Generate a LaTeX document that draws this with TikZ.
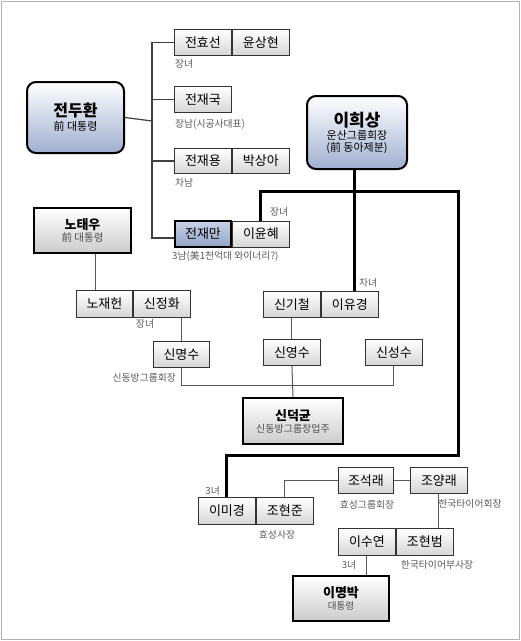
\documentclass[tikz,border=0pt]{standalone}
\usepackage{fontspec}
\setmainfont{Noto Sans CJK KR}
\usetikzlibrary{positioning}
\definecolor{capblue}{RGB}{160,175,207}
\definecolor{manblue}{RGB}{147,164,198}
\definecolor{mantop}{RGB}{200,210,232}

\tikzset{
  pbox/.style={draw=black!80,line width=0.9pt,top color=white,bottom color=black!16,
    minimum width=57pt,minimum height=26pt,inner sep=0pt,anchor=north west,
    font=\fontsize{13}{15}\selectfont},
  capbox/.style={draw=black,line width=2pt,rounded corners=9pt,top color=white,
    bottom color=capblue,align=center,inner sep=0pt,anchor=north west},
  elderbox/.style={draw=black,line width=2pt,top color=white,bottom color=black!20,
    align=center,inner sep=0pt,anchor=north west},
  lbl/.style={font=\fontsize{9.8}{11}\selectfont,text=black!65,inner sep=0pt},
  thin/.style={draw=black!65,line width=1pt},
  trunk/.style={draw=black!75,line width=1.2pt},
  blood/.style={draw=black,line width=3pt},
}

\begin{document}
\begin{tikzpicture}[x=1pt,y=-1pt]
  \useasboundingbox (0,0) rectangle (521,641);
  \draw[black!30,line width=1.5pt] (1.5,1.5) rectangle (519.5,639.5);

  \node[capbox,minimum width=97pt,minimum height=71pt] (doohwan) at (26,81)
    {{\bfseries\fontsize{16}{18}\selectfont 전두환}\\[2pt]{\fontsize{11}{13}\selectfont 前 대통령}};

  \node[pbox] (hyoseon) at (174,29) {전효선};
  \node[pbox,right=0pt of hyoseon] (sanghyun) {윤상현};
  \node[pbox] (jaeguk) at (174,86) {전재국};
  \node[pbox,minimum height=25pt] (jaeyong) at (174,148) {전재용};
  \node[pbox,minimum height=25pt,right=0pt of jaeyong] (sanga) {박상아};
  \node[pbox,draw=black,line width=2pt,top color=mantop,bottom color=manblue,
        minimum width=56pt] (jaeman) at (174,220) {전재만};
  \node[pbox,right=0pt of jaeman] (yunhye) {이윤혜};

  \node[lbl,anchor=west] at (175,64) {장녀};
  \node[lbl,anchor=west] at (175,124) {장남(시공사대표)};
  \node[lbl,anchor=west] at (175,183) {차남};
  \node[lbl,anchor=west] at (172,256) {3남(美1천억대 와이너리?)};
  \node[lbl,anchor=west] at (270,212) {장녀};

  \node[capbox,minimum width=100pt,minimum height=73pt] (heesang) at (306,95)
    {{\bfseries\fontsize{17}{19}\selectfont 이희상}\\[1pt]{\fontsize{11}{13}\selectfont 운산그룹회장}\\{\fontsize{11}{13}\selectfont (前 동아제분)}};

  \node[elderbox,minimum width=97pt,minimum height=45pt] (taewoo) at (33,207)
    {{\bfseries\fontsize{13}{15}\selectfont 노태우}\\{\fontsize{10.5}{12}\selectfont\color{black!70} 前 대통령}};
  \node[pbox,minimum width=56pt,minimum height=27pt] (jaeheon) at (76,290) {노재헌};
  \node[pbox,minimum height=27pt,right=0pt of jaeheon] (jeonghwa) {신정화};
  \node[lbl] at (145,324) {장녀};
  \node[pbox,minimum width=56pt] (myungsoo) at (153,341) {신명수};
  \node[lbl,anchor=east] at (176,378) {신동방그룹회장};

  \node[pbox] (kicheol) at (263,291) {신기철};
  \node[pbox,right=0pt of kicheol] (yukyung) {이유경};
  \node[lbl,anchor=west] at (359,283) {차녀};
  \node[pbox] (youngsoo) at (263,339) {신영수};
  \node[pbox] (sungsoo) at (365,339) {신성수};
  \node[elderbox,minimum width=100pt,minimum height=46pt] (dukkyun) at (242,397)
    {{\bfseries\fontsize{13}{15}\selectfont 신덕균}\\{\fontsize{10}{12}\selectfont\color{black!70} 신동방그룹창업주}};

  \node[pbox,minimum height=27pt] (mikyung) at (198,497) {이미경};
  \node[pbox,minimum height=27pt,right=0pt of mikyung] (hyunjoon) {조현준};
  \node[lbl,anchor=east] at (220,491) {3녀};
  \node[lbl] at (277,535) {효성사장};
  \node[pbox,minimum width=55pt] (seokrae) at (338,467) {조석래};
  \node[pbox] (yangrae) at (410,467) {조양래};
  \node[lbl] at (367,505) {효성그룹회장};
  \node[lbl] at (470,504) {한국타이어회장};
  \node[pbox,minimum height=27pt] (sooyeon) at (338,528) {이수연};
  \node[pbox,minimum height=27pt,right=0pt of sooyeon] (hyunbum) {조현범};
  \node[lbl] at (349,565) {3녀};
  \node[lbl] at (437,565) {한국타이어부사장};
  \node[elderbox,minimum width=96pt,minimum height=45pt] (myungbak) at (292,575)
    {{\bfseries\fontsize{13}{15}\selectfont 이명박}\\{\fontsize{9.5}{11}\selectfont\color{black!70} 대통령}};

  \coordinate (jtrunk) at (152,121);
  \draw[trunk] (doohwan.east) -- (jtrunk);
  \draw[trunk] (hyoseon.west) -| (jtrunk) |- ([yshift=-4pt]jaeman.west);
  \draw[trunk] (jaeguk.west) -- (jaeguk.west -| jtrunk);
  \draw[trunk] (jaeyong.west) -- (jaeyong.west -| jtrunk);

  \coordinate (lbus) at (458,191);
  \coordinate (lturn) at (458,455);
  \draw[blood] (yunhye.north) |- (lbus) -- (lturn) -| (mikyung.north);
  \draw[blood] ([xshift=-3pt]heesang.south) -- ([xshift=-3pt]heesang.south |- yukyung.north);

  \draw[thin] ([xshift=13pt]taewoo.south) -- ([xshift=13pt]taewoo.south |- jaeheon.north);
  \draw[thin] (jeonghwa.south -| myungsoo.north) -- (myungsoo.north);
  \coordinate (sbus) at (0,385);
  \draw[thin] (myungsoo.south) |- (sbus -| sungsoo.south) -- (sungsoo.south);
  \draw[thin] (kicheol.south) -- (youngsoo.north);
  \draw[thin] (youngsoo.south) -- (dukkyun.north);

  \draw[thin] (hyunjoon.north) |- (seokrae.west);
  \draw[thin] (seokrae.east) -- (yangrae.west);
  \draw[thin] (yangrae.south) -- (yangrae.south |- hyunbum.north);
  \draw[thin] (sooyeon.south) -- (sooyeon.south |- myungbak.north);
\end{tikzpicture}
\end{document}
